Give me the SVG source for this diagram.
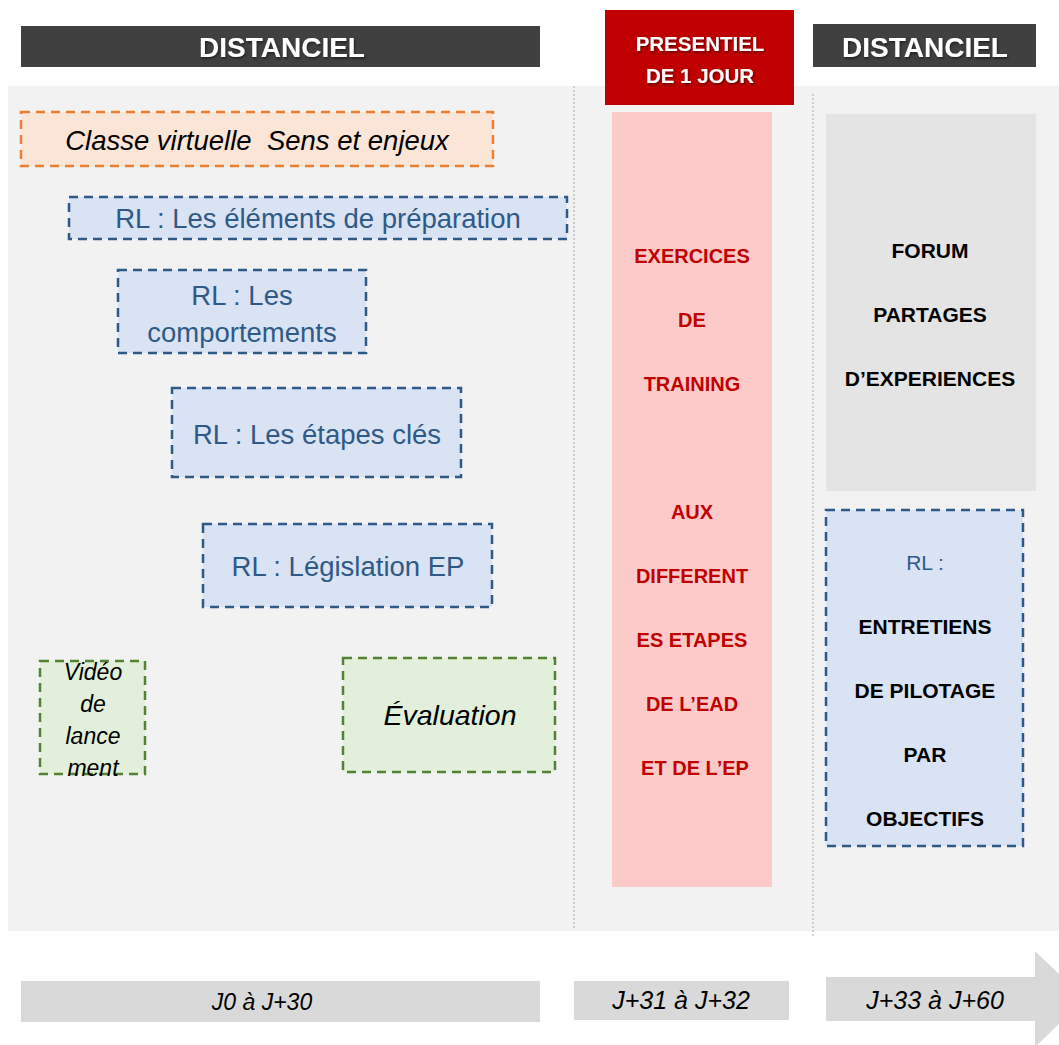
<svg xmlns="http://www.w3.org/2000/svg" width="1059" height="1045" viewBox="0 0 1059 1045">
<style>
text{font-family:"Liberation Sans","Open Sans",sans-serif;text-anchor:middle}
.hdr{fill:#fff;font-weight:bold}
.blue{fill:#DAE3F3;stroke:#2F5A87;stroke-width:2.5;stroke-dasharray:9 6}
.green{fill:#E2EFDA;stroke:#548235;stroke-width:2.5;stroke-dasharray:9 6}
.bt{fill:#2F5A87;font-size:27.5px}
.it{font-style:italic;fill:#000}
.red{fill:#C00000;font-weight:bold;font-size:20px}
.blk{fill:#000;font-weight:bold;font-size:21px}
.bar{fill:#D9D9D9}
.sep{stroke:#A6A6A6;stroke-width:1;stroke-dasharray:2 2}
</style>
<defs>
<filter id="sh" x="-10%" y="-30%" width="120%" height="160%">
<feDropShadow dx="1" dy="1.5" stdDeviation="1" flood-color="#000" flood-opacity="0.5"/>
</filter>
</defs>
<rect x="8" y="86" width="1051" height="845" fill="#F2F2F2"/>
<g id="separators">
<line class="sep" x1="574" y1="86" x2="574" y2="930"/>
<line class="sep" x1="813" y1="94" x2="813" y2="938"/>
</g>
<g id="hdr-distanciel-1">
<rect x="21" y="26" width="519" height="41" fill="#404040"/>
<text class="hdr" x="282" y="57" filter="url(#sh)" font-size="28">DISTANCIEL</text>
</g>
<g id="hdr-presentiel">
<rect x="605" y="10" width="189" height="95" fill="#C00000"/>
<text class="hdr" x="700" y="51" filter="url(#sh)" font-size="20.5">PRESENTIEL</text>
<text class="hdr" x="700" y="83" filter="url(#sh)" font-size="20.5">DE 1 JOUR</text>
</g>
<g id="hdr-distanciel-2">
<rect x="813" y="24" width="223" height="43" fill="#404040"/>
<text class="hdr" x="925" y="57" filter="url(#sh)" font-size="28">DISTANCIEL</text>
</g>
<g id="classe-virtuelle">
<rect x="21" y="112" width="472" height="54" fill="#FBE5D6" stroke="#ED7D31" stroke-width="2.5" stroke-dasharray="9 6"/>
<text class="it" x="257" y="150" font-size="27.5" xml:space="preserve">Classe virtuelle  Sens et enjeux</text>
</g>
<g id="rl-preparation">
<rect class="blue" x="69" y="197" width="498" height="42"/>
<text class="bt" x="318" y="228">RL : Les éléments de préparation</text>
</g>
<g id="rl-comportements">
<rect class="blue" x="118" y="270" width="248" height="83"/>
<text class="bt" x="242" y="305">RL : Les</text>
<text class="bt" x="242" y="342">comportements</text>
</g>
<g id="rl-etapes">
<rect class="blue" x="172" y="388" width="289" height="89"/>
<text class="bt" x="317" y="444">RL : Les étapes clés</text>
</g>
<g id="rl-legislation">
<rect class="blue" x="203" y="524" width="289" height="83"/>
<text class="bt" x="348" y="576">RL : Législation EP</text>
</g>
<g id="video">
<rect class="green" x="40" y="661" width="105" height="113"/>
<text class="it" x="93" y="680" font-size="23">Vidéo</text>
<text class="it" x="93" y="712" font-size="23">de</text>
<text class="it" x="93" y="744" font-size="23">lance</text>
<text class="it" x="93" y="776" font-size="23">ment</text>
</g>
<g id="evaluation">
<rect class="green" x="343" y="658" width="212" height="114"/>
<text class="it" x="450" y="725" font-size="28.5">Évaluation</text>
</g>
<g id="exercices">
<rect x="612" y="112" width="160" height="775" fill="#FDCACA"/>
<text class="red" x="692" y="263">EXERCICES</text>
<text class="red" x="692" y="327">DE</text>
<text class="red" x="692" y="391">TRAINING</text>
<text class="red" x="692" y="519">AUX</text>
<text class="red" x="692" y="583">DIFFERENT</text>
<text class="red" x="692" y="647">ES ETAPES</text>
<text class="red" x="692" y="711">DE L’EAD</text>
<text class="red" x="695" y="775">ET DE L’EP</text>
</g>
<g id="forum">
<rect x="826" y="114" width="210" height="377" fill="#E4E4E4"/>
<text class="blk" x="930" y="258">FORUM</text>
<text class="blk" x="930" y="322">PARTAGES</text>
<text class="blk" x="930" y="386">D’EXPERIENCES</text>
</g>
<g id="rl-entretiens">
<rect class="blue" x="826" y="510" width="197" height="336"/>
<text x="925" y="570" fill="#2F5A87" font-size="21">RL :</text>
<text class="blk" x="925" y="634">ENTRETIENS</text>
<text class="blk" x="925" y="698">DE PILOTAGE</text>
<text class="blk" x="925" y="762">PAR</text>
<text class="blk" x="925" y="826">OBJECTIFS</text>
</g>
<g id="time-1">
<rect class="bar" x="21" y="981" width="519" height="41"/>
<text class="it" x="262" y="1010" font-size="23">J0 à J+30</text>
</g>
<g id="time-2">
<rect class="bar" x="574" y="981" width="215" height="39"/>
<text class="it" x="681" y="1009" font-size="25">J+31 à J+32</text>
</g>
<g id="time-3">
<polygon class="bar" points="826,977 1035,977 1035,951 1085,999 1035,1047 1035,1021 826,1021"/>
<text class="it" x="935" y="1009" font-size="25">J+33 à J+60</text>
</g>
</svg>
